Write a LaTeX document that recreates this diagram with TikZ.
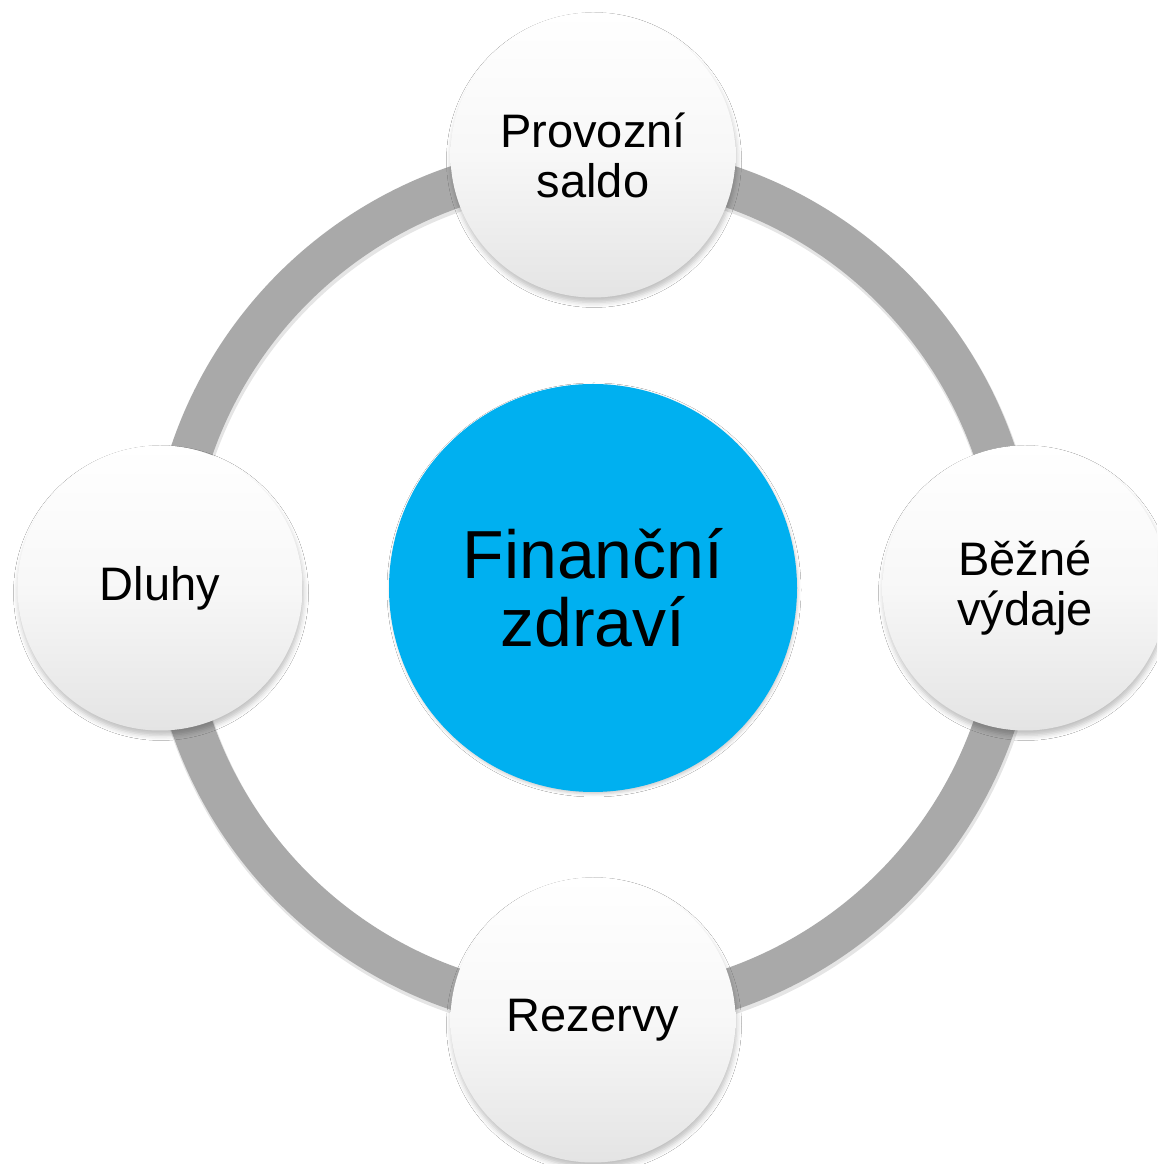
\documentclass[tikz,border=0pt]{standalone}
\usepackage{fontspec}
\setmainfont{Liberation Sans}
\usetikzlibrary{shadows.blur}
\definecolor{ringgray}{HTML}{A9A9A9}
\definecolor{hubblue}{HTML}{00B0F0}
\definecolor{petalbottom}{HTML}{E4E4E4}
\begin{document}
\begin{tikzpicture}[x=1pt,y=1pt,
  ring/.style={draw=ringgray, line width=42pt},
  ringshade/.style={draw=black, draw opacity=0.10, line width=44pt},
  hub/.style={circle, fill=hubblue, minimum size=408pt, inner sep=0pt, align=center,
    font=\fontsize{68}{68}\selectfont,
    blur shadow={shadow xshift=1pt, shadow yshift=-2pt, shadow blur radius=3pt, shadow opacity=20}},
  petal/.style={circle, minimum size=285pt, inner sep=0pt, align=center,
    top color=white, bottom color=petalbottom, middle color=white!97!black,
    font=\fontsize{47}{50}\selectfont,
    blur shadow={shadow xshift=1pt, shadow yshift=-5pt, shadow blur radius=5pt, shadow opacity=25}}]
\clip (0,0) rectangle (1157,1164);
\fill[white] (0,0) rectangle (1157,1164);
\coordinate (mid) at (593,576);
\coordinate (midshade) at (594,573);
\draw[ringshade] (midshade) circle[radius=424];
\draw[ring] (mid) circle[radius=424];
\node[hub] (hub) at (mid) {Finanční\\zdraví};
\node[petal] (top) at (593,1009) {Provozní\\saldo};
\node[petal] (right) at (1025,576) {Běžné\\výdaje};
\node[petal] (bottom) at (593,144) {Rezervy};
\node[petal] (left) at (160,576) {Dluhy};
\end{tikzpicture}
\end{document}
